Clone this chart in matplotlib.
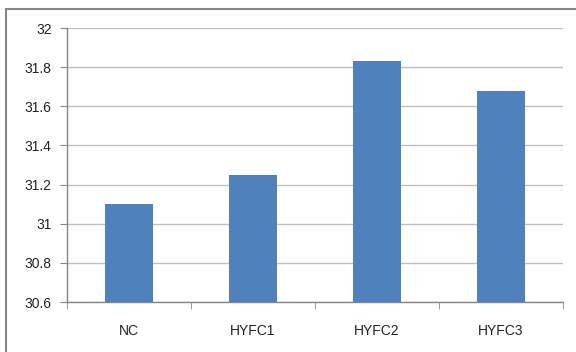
import matplotlib
matplotlib.use("Agg")
import matplotlib.pyplot as plt
from matplotlib.patches import Rectangle

categories = ["NC", "HYFC1", "HYFC2", "HYFC3"]
values = [31.1, 31.25, 31.83, 31.68]
yticks = [30.6, 30.8, 31.0, 31.2, 31.4, 31.6, 31.8, 32.0]
ytick_labels = ["30.6", "30.8", "31", "31.2", "31.4", "31.6", "31.8", "32"]

plt.rcParams['font.family'] = ['Liberation Sans', 'DejaVu Sans']
W, H = 576, 352
fig = plt.figure(figsize=(W/100, H/100), dpi=100)
ax = fig.add_axes([67/W, 1-302/H, (563-67)/W, (302-28)/H])

x = list(range(len(categories)))
ax.bar(x, values, width=0.395, color="#4F81BD", zorder=3)
ax.set_xlim(-0.5, len(categories)-0.5)
ax.set_ylim(30.6, 32.0)
ax.set_yticks(yticks)
ax.set_yticklabels(ytick_labels, fontsize=10, color="#222222")
ax.set_xticks(x)
ax.set_xticklabels(categories, fontsize=10, color="#222222")
ax.set_xticks([i-0.5 for i in range(len(categories)+1)], minor=True)
ax.tick_params(axis='x', which='major', length=0, pad=16)
ax.tick_params(axis='x', which='minor', length=5, color="#868686", direction='out')
ax.tick_params(axis='y', length=5, color="#868686", direction='out', pad=6)
ax.grid(axis='y', color="#BFBFBF", linewidth=1, zorder=0)
for s in ['top', 'right']:
    ax.spines[s].set_visible(False)
for s in ['left', 'bottom']:
    ax.spines[s].set_color("#868686")
    ax.spines[s].set_linewidth(1)

fig.patches.append(Rectangle((6/W, -0.1), 1.2, 1.1 - 9/H, transform=fig.transFigure,
                             fill=False, edgecolor="#868686", linewidth=1.5))
fig.savefig("out.png", dpi=100)
